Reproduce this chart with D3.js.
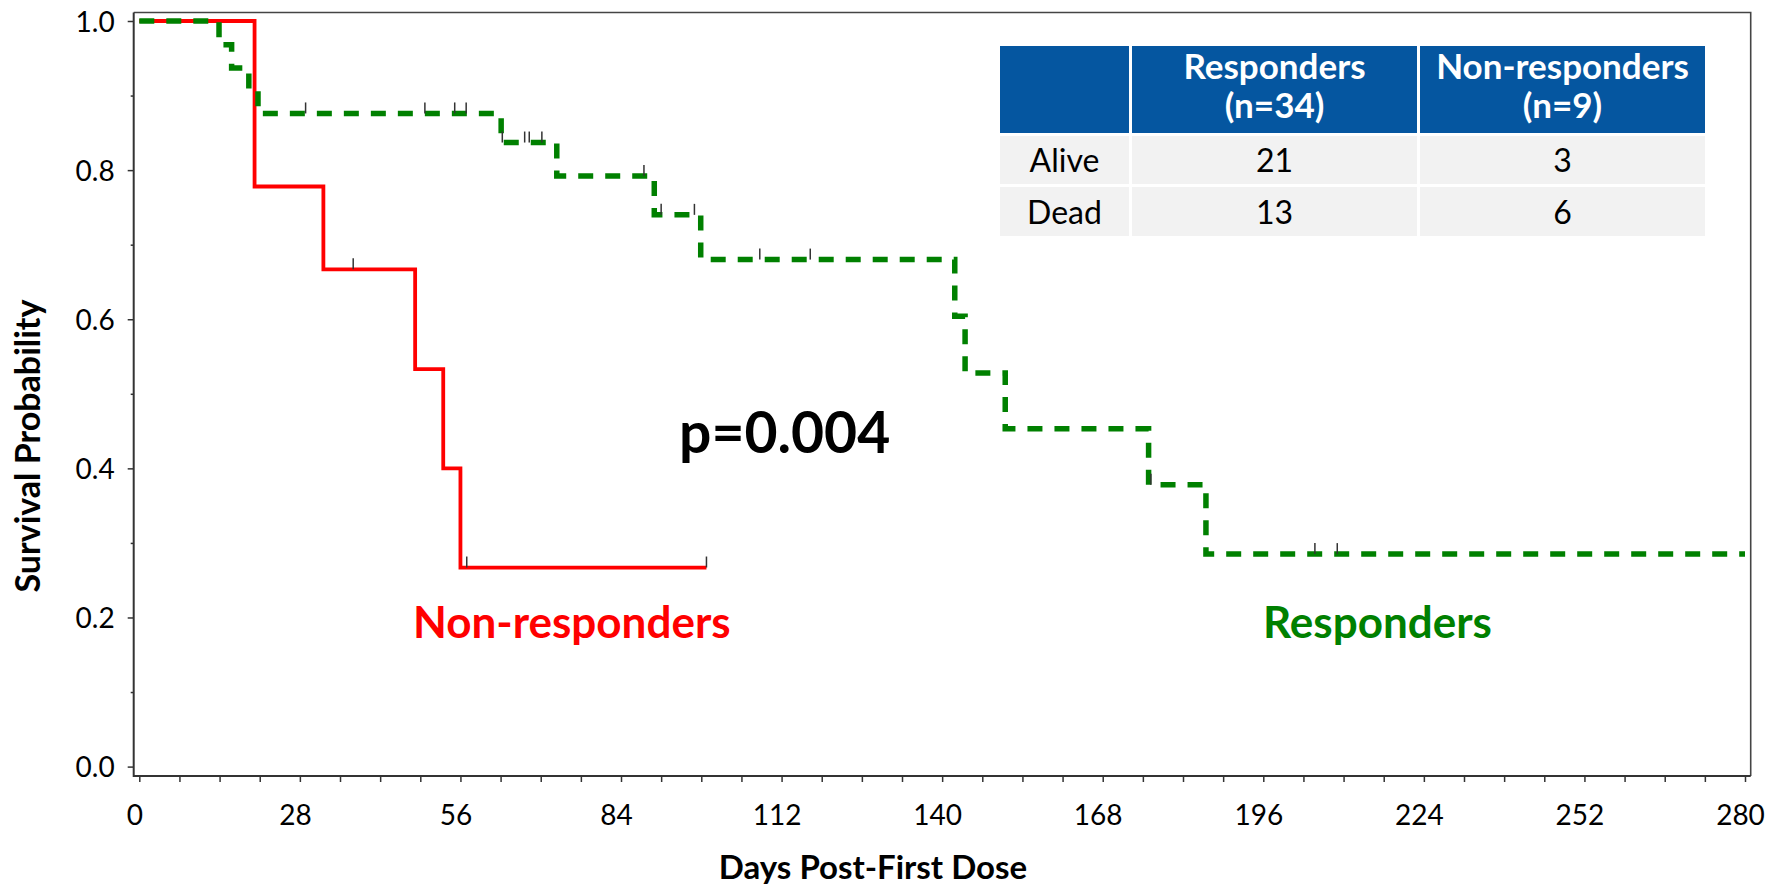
<!DOCTYPE html>
<html>
<head>
<meta charset="utf-8">
<script src="https://cdn.jsdelivr.net/npm/d3@7"></script>
<style>
  html, body { margin: 0; padding: 0; background: #fff; }
  svg text { font-family: Lato, "Open Sans", sans-serif; }
</style>
</head>
<body>
<svg id="chart" width="1765" height="886"></svg>
<script>
// Kaplan-Meier step points (day of event, survival after the event)
const respTimes   = [0, 13.9, 16.1, 19.1, 20.7, 63.1, 72.8, 89.8, 97.9, 142.2, 144.0, 151.0, 176.0, 186.0];
const respSurv    = [1.0, 0.968, 0.937, 0.906, 0.876, 0.837, 0.792, 0.740, 0.680, 0.604, 0.528, 0.453, 0.378, 0.285];
const respEnd     = 280;
const nonRespTimes = [0, 20.1, 32.1, 48.1, 53.0, 56.0];
const nonRespSurv  = [1.0, 0.778, 0.667, 0.533, 0.400, 0.267];
const nonRespEnd   = 98.9;

// Censored observations (day, survival at that time)
const respCensorDays = [29.0, 49.8, 55.0, 57.0, 63.3, 67.2, 68.0, 70.2, 88.0, 91.0, 96.8, 108.2, 117.0, 176.4, 205.0, 208.9];
const respCensorSurv = [0.876, 0.876, 0.876, 0.876, 0.837, 0.837, 0.837, 0.837, 0.792, 0.740, 0.740, 0.680, 0.680, 0.378, 0.285, 0.285];
const nonRespCensorDays = [37.3, 57.1, 98.9];
const nonRespCensorSurv = [0.667, 0.267, 0.267];

// Axis ticks
const yMajorTicks = [0, 0.2, 0.4, 0.6, 0.8, 1.0];
const yMinorTicks = [0.1, 0.3, 0.5, 0.7, 0.9];
const xTickStep = 7;
const xLabelStep = 28;

// Summary table
const tableHeaders = ["", "Responders\n(n=34)", "Non-responders\n(n=9)"];
const tableRowLabels = ["Alive", "Dead"];
const respondersCounts = [21, 13];
const nonRespondersCounts = [3, 6];

const pValueText = "p=0.004";
const xTitle = "Days Post-First Dose";
const yTitle = "Survival Probability";

const svg = d3.select("#chart");

const x = d3.scaleLinear().domain([0, 280]).range([139.3, 1745]);
const y = d3.scaleLinear().domain([0, 1]).range([766.6, 21]);

const axisX = 133.7, axisY = 776, frameTop = 12.5, frameRight = 1750.7;

// Frame (top and right)
svg.append("path")
  .attr("d", `M${axisX},${frameTop}H${frameRight}V${axisY}`)
  .attr("fill", "none").attr("stroke", "#444").attr("stroke-width", 1.6);

// Y axis
const gy = svg.append("g").attr("transform", `translate(${axisX},0)`);
gy.call(d3.axisLeft(y).tickValues(yMajorTicks).tickSize(6).tickPadding(13).tickFormat(d3.format(".1f")));
gy.append("g").call(d3.axisLeft(y).tickValues(yMinorTicks).tickSize(3).tickFormat(""))
  .select(".domain").remove();
gy.selectAll(".domain").remove();
gy.selectAll("line").attr("stroke", "#333").attr("stroke-width", 1.5);
gy.selectAll("text").attr("font-size", 28).attr("fill", "#000").attr("dy", "0.36em")
  .attr("font-family", "Lato");

// X axis
const gx = svg.append("g").attr("transform", `translate(0,${axisY})`);
gx.call(d3.axisBottom(x).tickValues(d3.range(0, 281, xTickStep)).tickSize(6)
  .tickFormat(d => d % xLabelStep === 0 ? d : ""));
gx.selectAll(".domain").remove();
gx.selectAll("line").attr("stroke", "#333").attr("stroke-width", 1.5);
gx.selectAll("text").attr("font-size", 28).attr("fill", "#000")
  .attr("y", 49).attr("dy", 0).attr("x", -5).attr("font-family", "Lato");

// Axis lines
svg.append("path")
  .attr("d", `M${axisX},${frameTop}V${axisY}H${frameRight}`)
  .attr("fill", "none").attr("stroke", "#333").attr("stroke-width", 2);

// Axis titles
svg.append("text").attr("x", 873).attr("y", 879).attr("text-anchor", "middle")
  .attr("font-size", 33).attr("font-weight", 700).text(xTitle);
svg.append("text").attr("transform", "translate(40,446) rotate(-90)")
  .attr("text-anchor", "middle").attr("font-size", 34).attr("font-weight", 700).text(yTitle);

// Survival curves
const stepLine = d3.line().x(d => x(d[0])).y(d => y(d[1])).curve(d3.curveStepAfter);
const nonRespPts = nonRespTimes.map((t, i) => [t, nonRespSurv[i]]);
nonRespPts.push([nonRespEnd, nonRespSurv[nonRespSurv.length - 1]]);
const respPts = respTimes.map((t, i) => [t, respSurv[i]]);
respPts.push([respEnd, respSurv[respSurv.length - 1]]);

svg.append("path").attr("d", stepLine(nonRespPts))
  .attr("fill", "none").attr("stroke", "#ff0000").attr("stroke-width", 3.8);
svg.append("path").attr("d", stepLine(respPts))
  .attr("fill", "none").attr("stroke", "#008000").attr("stroke-width", 5.5)
  .attr("stroke-dasharray", "15,12");

// Censor marks
const censors = respCensorDays.map((d, i) => [d, respCensorSurv[i]])
  .concat(nonRespCensorDays.map((d, i) => [d, nonRespCensorSurv[i]]));
svg.append("g").selectAll("line").data(censors).join("line")
  .attr("x1", d => x(d[0])).attr("x2", d => x(d[0]))
  .attr("y1", d => y(d[1])).attr("y2", d => y(d[1]) - 11)
  .attr("stroke", "#333").attr("stroke-width", 1.5);

// Annotations
svg.append("text").attr("x", 679).attr("y", 452.5)
  .attr("font-size", 57).attr("font-weight", 700).attr("fill", "#000").text(pValueText);
svg.append("text").attr("x", 413).attr("y", 638)
  .attr("font-size", 44).attr("font-weight", 700).attr("fill", "#ff0000").text("Non-responders");
svg.append("text").attr("x", 1263).attr("y", 638)
  .attr("font-size", 44).attr("font-weight", 700).attr("fill", "#008000").text("Responders");

// Summary table
const colEdges = [[1000, 1129], [1132, 1417], [1420, 1705]];
const headerBox = [46, 133];
const rowBoxes = [[136, 184], [187, 236]];
const tbl = svg.append("g");

colEdges.forEach((c, i) => {
  tbl.append("rect").attr("x", c[0]).attr("y", headerBox[0])
    .attr("width", c[1] - c[0]).attr("height", headerBox[1] - headerBox[0]).attr("fill", "#0556a0");
  const lines = tableHeaders[i].split("\n");
  lines.forEach((ln, j) => {
    if (!ln) return;
    tbl.append("text").attr("x", (c[0] + c[1]) / 2).attr("y", 79 + j * 39)
      .attr("text-anchor", "middle").attr("font-size", 35).attr("font-weight", 700)
      .attr("fill", "#fff").text(ln);
  });
});

tableRowLabels.forEach((lab, r) => {
  const vals = [lab, respondersCounts[r], nonRespondersCounts[r]];
  colEdges.forEach((c, i) => {
    tbl.append("rect").attr("x", c[0]).attr("y", rowBoxes[r][0])
      .attr("width", c[1] - c[0]).attr("height", rowBoxes[r][1] - rowBoxes[r][0]).attr("fill", "#f2f2f2");
    tbl.append("text").attr("x", (c[0] + c[1]) / 2).attr("y", rowBoxes[r][1] - 12.5)
      .attr("text-anchor", "middle").attr("font-size", 32).attr("fill", "#000").text(vals[i]);
  });
});
</script>
</body>
</html>
